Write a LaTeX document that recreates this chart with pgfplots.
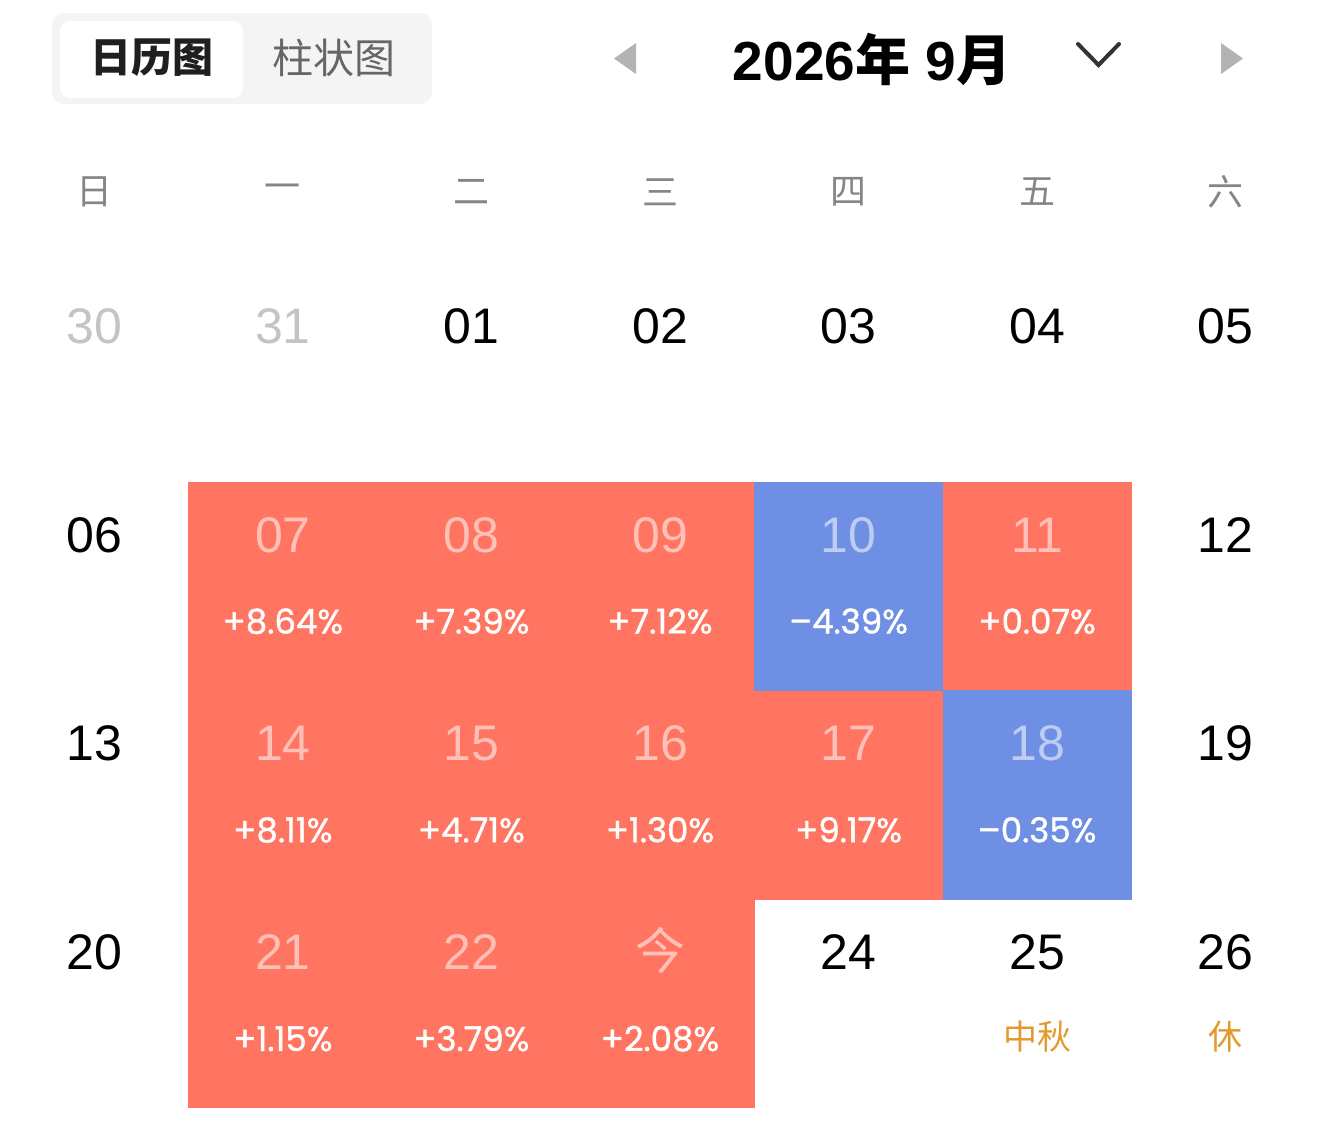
\documentclass[border=0pt]{standalone}
\usepackage{fontspec}
\usepackage{pgfplots}
\pgfplotsset{compat=1.18}
\usepackage{pgfplotstable}
\setmainfont{Liberation Sans}
\newfontfamily\cjk{Noto Sans CJK SC}
\newfontfamily\pop{Poppins}[FakeBold=1.2]
\definecolor{upred}{HTML}{FF7561}
\definecolor{downblue}{HTML}{6E8FE4}
\definecolor{pastgray}{HTML}{C4C4C4}
\definecolor{wkgray}{HTML}{858585}
\definecolor{holiday}{HTML}{E29A2D}
\definecolor{togglebg}{HTML}{F4F4F4}
\definecolor{arrowgray}{HTML}{B3B3B3}

\pgfdeclareplotmark{cell}{\pgfpathrectangle{\pgfpoint{-47.3pt}{-52.35pt}}{\pgfpoint{94.6pt}{104.7pt}}\pgfusepathqfill}

% cells with a change (x, y = cell centre in pixels)
\pgfplotstableread{
x y day pct
282.9 586.3 07 +8.64
471.4 586.3 08 +7.39
660.0 586.3 09 +7.12
1037.1 586.3 11 +0.07
282.9 795.0 14 +8.11
471.4 795.0 15 +4.71
660.0 795.0 16 +1.30
848.6 795.0 17 +9.17
282.9 1003.7 21 +1.15
471.4 1003.7 22 +3.79
660.0 1003.7 {\cjk 今} +2.08
}\upcells
\pgfplotstableread{
x y day pct
848.6 586.3 10 –4.39
1037.1 795.0 18 –0.35
}\downcells
\pgfplotstableread{
x y day
471.4 377.6 01
660.0 377.6 02
848.6 377.6 03
1037.1 377.6 04
1225.7 377.6 05
94.3 586.3 06
1225.7 586.3 12
94.3 795.0 13
1225.7 795.0 19
94.3 1003.7 20
848.6 1003.7 24
1037.1 1003.7 25
1225.7 1003.7 26
}\plaindays
\pgfplotstableread{
x y day
94.3 377.6 30
282.9 377.6 31
}\pastdays

\newcommand\wk[2]{\node[text=wkgray] at (axis cs:#2,192) {\cjk\fontsize{18}{18}\selectfont #1};}

\begin{document}
\begin{tikzpicture}
\begin{axis}[
  scale only axis, width=660pt, height=562pt,
  xmin=0, xmax=1320, ymin=0, ymax=1124, y dir=reverse,
  hide axis, clip=false,
]
\path (axis cs:0,0) (axis cs:1320,1124);
% toggle
\fill[togglebg, rounded corners=6pt] (axis cs:52,13) rectangle (axis cs:432,104);
\fill[white, rounded corners=5pt] (axis cs:60,21) rectangle (axis cs:243,98);
\node[text=black!88] at (axis cs:152,58) {\cjk\fontsize{20.5}{20.5}\selectfont\bfseries 日历图};
\node[text=black!60] at (axis cs:334,58) {\cjk\fontsize{20.5}{20.5}\selectfont 柱状图};
% month navigation
\fill[arrowgray] (axis cs:636,43) -- (axis cs:636,74) -- (axis cs:614,58.5) -- cycle;
\fill[arrowgray] (axis cs:1221,43) -- (axis cs:1221,74) -- (axis cs:1243,58.5) -- cycle;
\draw[black!80, line width=2pt, line cap=round, line join=miter] (axis cs:1078,44) -- (axis cs:1098.5,65) -- (axis cs:1119,44);
\node[anchor=base] at (axis cs:872,80) {\fontsize{27.5}{27.5}\selectfont\bfseries 2026{\cjk\bfseries 年} 9{\cjk\bfseries 月}};
% weekday header
\wk{日}{94.3}
\wk{一}{282.9}
\wk{二}{471.4}
\wk{三}{660.0}
\wk{四}{848.6}
\wk{五}{1037.1}
\wk{六}{1225.7}
% coloured cells with percentage
\addplot[only marks, mark=cell, mark options={fill=upred, draw=none},
  point meta=explicit symbolic,
  nodes near coords={\pop\fontsize{17}{17}\selectfont\pgfplotspointmeta\%},
  nodes near coords style={anchor=base, yshift=-23.6pt, text=white}]
  table[x=x, y=y, meta=pct]{\upcells};
\addplot[only marks, mark=cell, mark options={fill=downblue, draw=none},
  point meta=explicit symbolic,
  nodes near coords={\pop\fontsize{17}{17}\selectfont\pgfplotspointmeta\%},
  nodes near coords style={anchor=base, yshift=-23.6pt, text=white}]
  table[x=x, y=y, meta=pct]{\downcells};
% day numbers in coloured cells
\addplot[draw=none, mark=none, point meta=explicit symbolic,
  nodes near coords={\fontsize{25}{25}\selectfont\pgfplotspointmeta},
  nodes near coords style={anchor=base, yshift=17.15pt, text=white, text opacity=0.55}]
  table[x=x, y=y, meta=day]{\upcells};
\addplot[draw=none, mark=none, point meta=explicit symbolic,
  nodes near coords={\fontsize{25}{25}\selectfont\pgfplotspointmeta},
  nodes near coords style={anchor=base, yshift=17.15pt, text=white, text opacity=0.55}]
  table[x=x, y=y, meta=day]{\downcells};
% plain day numbers
\addplot[draw=none, mark=none, point meta=explicit symbolic,
  nodes near coords={\fontsize{25}{25}\selectfont\pgfplotspointmeta},
  nodes near coords style={anchor=base, yshift=17.15pt, text=black}]
  table[x=x, y=y, meta=day]{\plaindays};
\addplot[draw=none, mark=none, point meta=explicit symbolic,
  nodes near coords={\fontsize{25}{25}\selectfont\pgfplotspointmeta},
  nodes near coords style={anchor=base, yshift=17.15pt, text=pastgray}]
  table[x=x, y=y, meta=day]{\pastdays};
% holiday labels
\node[text=holiday] at (axis cs:1037.1,1037) {\cjk\fontsize{17}{17}\selectfont 中秋};
\node[text=holiday] at (axis cs:1225.7,1037) {\cjk\fontsize{17}{17}\selectfont 休};
\end{axis}
\end{tikzpicture}
\end{document}
